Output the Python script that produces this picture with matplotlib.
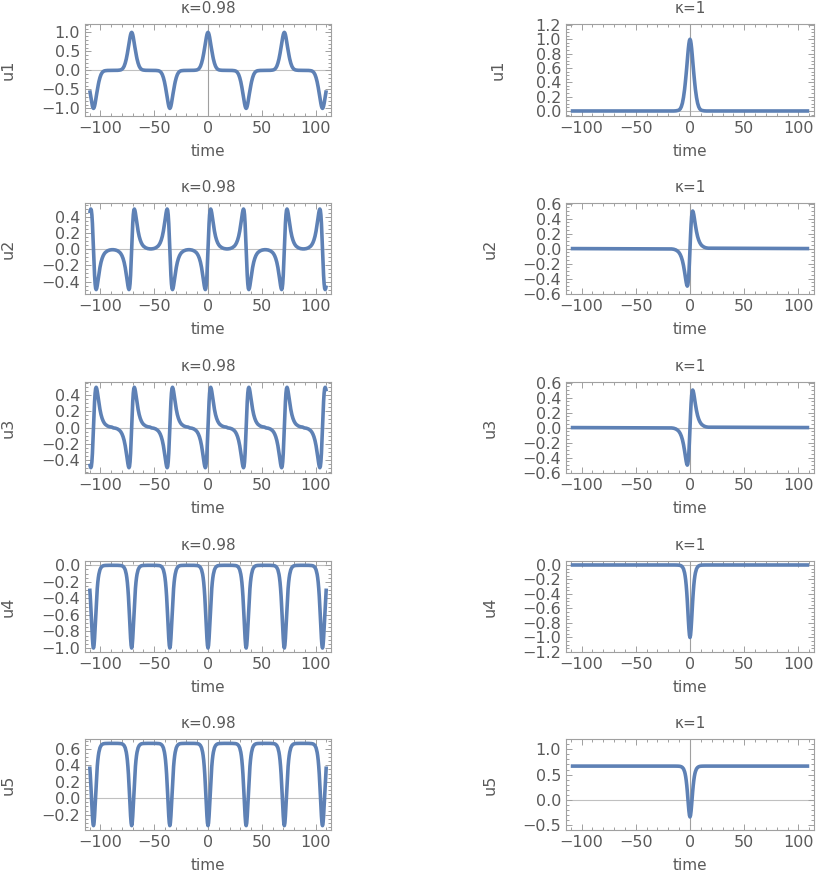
import matplotlib
matplotlib.use('Agg')
import matplotlib.pyplot as plt
from matplotlib.ticker import MultipleLocator, FuncFormatter

# ---------------- data ----------------
# pulse shape (time offset from a pulse centre)
pulse_offsets = [-17, -15, -13, -11, -10, -9, -8, -7, -6, -5, -4.5, -4, -3.5, -3, -2.5,
                 -2, -1.5, -1, -0.5, 0, 0.5, 1, 1.5, 2, 2.5, 3, 3.5, 4, 4.5, 5,
                 6, 7, 8, 9, 10, 11, 13, 15, 17]
# u1 pulse (bump, peak 1)
bump_vals = [0.000, 0.000, 0.002, 0.008, 0.015, 0.030, 0.060, 0.110, 0.190, 0.300, 0.370,
             0.445, 0.525, 0.610, 0.700, 0.790, 0.872, 0.939, 0.984, 1.000, 0.984, 0.939,
             0.872, 0.790, 0.700, 0.610, 0.525, 0.445, 0.370, 0.300, 0.190, 0.110, 0.060,
             0.030, 0.015, 0.008, 0.002, 0.000, 0.000]
# u2 / u3 pulse (odd, extrema +-0.5)
odd_vals = [-0.005, -0.009, -0.019, -0.039, -0.056, -0.080, -0.114, -0.161, -0.226, -0.310,
            -0.357, -0.405, -0.450, -0.484, -0.500, -0.485, -0.427, -0.322, -0.174, 0.000,
            0.174, 0.322, 0.427, 0.485, 0.500, 0.484, 0.450, 0.405, 0.357, 0.310, 0.226,
            0.161, 0.114, 0.080, 0.056, 0.039, 0.019, 0.009, 0.005]
# u4 / u5 pulse (dip of depth 1)
dip_vals = [0.000, 0.000, -0.0004, -0.0015, -0.003, -0.006, -0.013, -0.027, -0.054, -0.108,
            -0.150, -0.206, -0.281, -0.376, -0.491, -0.624, -0.760, -0.882, -0.968, -1.000,
            -0.968, -0.882, -0.760, -0.624, -0.491, -0.376, -0.281, -0.206, -0.150, -0.108,
            -0.054, -0.027, -0.013, -0.006, -0.003, -0.0015, -0.0004, 0.000, 0.000]

# pulse centres and signs
centers_k098 = [-106.5, -71.0, -35.5, 0.0, 35.5, 71.0, 106.5]
u1_signs_k098 = [-1, 1, -1, 1, -1, 1, -1]
plain_signs_k098 = [1, 1, 1, 1, 1, 1, 1]
centers_k1 = [0.0]
signs_k1 = [1]

t_range = [-110, 110]
u5_level = 0.667

titles = ['κ=0.98', 'κ=1']
ylabels = ['u1', 'u2', 'u3', 'u4', 'u5']

# y-limits, major / minor tick steps per panel (row, col)
ylims = [[(-1.2, 1.22), (-0.07, 1.213)],
         [(-0.555, 0.575), (-0.605, 0.607)],
         [(-0.566, 0.566), (-0.605, 0.607)],
         [(-1.048, 0.052), (-1.2, 0.055)],
         [(-0.386, 0.72), (-0.59, 1.2)]]
ysteps = [[(0.5, 0.1), (0.2, 0.05)],
          [(0.2, 0.05), (0.2, 0.05)],
          [(0.2, 0.05), (0.2, 0.05)],
          [(0.2, 0.05), (0.2, 0.05)],
          [(0.2, 0.05), (0.5, 0.1)]]


def build(centers, signs, profile, base):
    ts, ys = [], []
    lo, hi = t_range
    if centers[0] + pulse_offsets[0] > lo:
        ts.append(lo); ys.append(base)
    for c, s in zip(centers, signs):
        for o, v in zip(pulse_offsets, profile):
            t = c + o
            if lo <= t <= hi:
                ts.append(t); ys.append(base + s * v)
    if centers[-1] + pulse_offsets[-1] < hi:
        ts.append(hi); ys.append(base)
    return ts, ys


series = [
    [build(centers_k098, u1_signs_k098, bump_vals, 0.0), build(centers_k1, signs_k1, bump_vals, 0.0)],
    [build(centers_k098, u1_signs_k098, odd_vals, 0.0), build(centers_k1, signs_k1, odd_vals, 0.0)],
    [build(centers_k098, plain_signs_k098, odd_vals, 0.0), build(centers_k1, signs_k1, odd_vals, 0.0)],
    [build(centers_k098, plain_signs_k098, dip_vals, 0.0), build(centers_k1, signs_k1, dip_vals, 0.0)],
    [build(centers_k098, plain_signs_k098, dip_vals, u5_level), build(centers_k1, signs_k1, dip_vals, u5_level)],
]

# ---------------- layout ----------------
W, H = 817, 872
plt.rcParams['font.family'] = ['DejaVu Sans']
fig = plt.figure(figsize=(W / 100, H / 100), dpi=100)

col_x = [(85, 331), (566, 814)]
row_y = [(24, 116), (203, 294), (382, 473), (561, 652), (739, 830)]
ylabel_x = [[16, 506], [16, 498], [16, 498], [16, 498], [16, 498]]

frame_col = '#a0a0a0'
text_col = '#5a5a5a'
line_col = '#5e81b5'


def yfmt(v, pos):
    s = f"{v:.1f}"
    if s == '-0.0':
        s = '0.0'
    return s.replace('-', '\u2212')


def xfmt(v, pos):
    return f"{v:.0f}".replace('-', '\u2212')


for r in range(5):
    for c in range(2):
        x0, x1 = col_x[c]
        y0, y1 = row_y[r]
        ax = fig.add_axes([x0 / W, 1 - y1 / H, (x1 - x0) / W, (y1 - y0) / H])
        ts, ys = series[r][c]
        ax.axhline(0, color='#c0c0c0', lw=0.8, zorder=1)
        ax.axvline(0, color='#a0a0a0', lw=0.8, zorder=1)
        ax.plot(ts, ys, color=line_col, lw=2.6, zorder=3, solid_capstyle='butt')
        ax.set_xlim(-114.4, 114.4)
        ax.set_ylim(*ylims[r][c])
        ax.xaxis.set_major_locator(MultipleLocator(50))
        ax.xaxis.set_minor_locator(MultipleLocator(10))
        mj, mn = ysteps[r][c]
        ax.yaxis.set_major_locator(MultipleLocator(mj))
        ax.yaxis.set_minor_locator(MultipleLocator(mn))
        ax.xaxis.set_major_formatter(FuncFormatter(xfmt))
        ax.yaxis.set_major_formatter(FuncFormatter(yfmt))
        ax.tick_params(which='both', direction='in', top=True, right=True,
                       color=frame_col, labelcolor=text_col, labelsize=11.5, width=0.7)
        ax.tick_params(which='major', length=4, pad=3.5)
        ax.tick_params(which='minor', length=2)
        for sp in ax.spines.values():
            sp.set_color(frame_col)
            sp.set_linewidth(0.8)
        ax.set_title(titles[c], color=text_col, fontsize=11, pad=8)
        ax.set_xlabel('time', color=text_col, fontsize=11)
        ax.xaxis.set_label_coords(0.5, -28.0 / (y1 - y0))
        ax.set_ylabel(ylabels[r], color=text_col, fontsize=11.5)
        ax.yaxis.set_label_coords((ylabel_x[r][c] - x0) / (x1 - x0), 0.5)

fig.savefig('out.png', dpi=100)
